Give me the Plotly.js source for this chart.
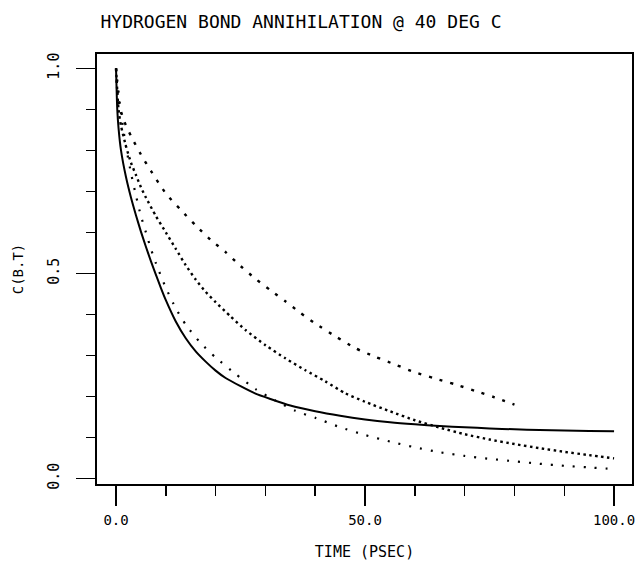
<!DOCTYPE html>
<html>
<head>
<meta charset="utf-8">
<script src="https://cdn.plot.ly/plotly-3.0.1.min.js"></script>
<style>
  html, body { margin: 0; padding: 0; background: #fff; }
  #chart { width: 636px; height: 564px; }
</style>
</head>
<body>
<div id="chart"></div>
<script>
// ---- Data ----
const chartTitle = 'HYDROGEN BOND ANNIHILATION @ 40 DEG C';
const xTitle = 'TIME (PSEC)';
const yTitle = 'C(B.T)';

const xTickVals = [0, 50, 100];
const xTickText = ['0.0', '50.0', '100.0'];
const yTickVals = [0, 0.5, 1.0];
const yTickText = ['0.0', '0.5', '1.0'];

// solid curve
const tSolid = [0, 0.25, 0.5, 1, 2, 3, 4, 5, 6, 7, 8, 9, 10, 12, 14, 16, 18, 20, 22, 25, 28, 31, 35, 40, 45, 50, 55, 60, 65, 70, 75, 80, 85, 90, 95, 100];
const cSolid = [1.0, 0.90, 0.855, 0.80, 0.735, 0.685, 0.642, 0.602, 0.565, 0.53, 0.497, 0.465, 0.435, 0.383, 0.342, 0.31, 0.285, 0.263, 0.245, 0.225, 0.207, 0.194, 0.178, 0.164, 0.153, 0.144, 0.137, 0.132, 0.128, 0.125, 0.122, 0.12, 0.118, 0.117, 0.116, 0.115];

// lower dotted curve (sparse dots)
const tLow = [0, 1, 2, 3, 4, 5, 6, 7, 8, 10, 12, 14, 17, 20, 24, 28, 32, 36, 40, 45, 50, 55, 60, 65, 70, 75, 80, 85, 90, 95, 100];
const cLow = [1.0, 0.89, 0.81, 0.745, 0.69, 0.64, 0.60, 0.56, 0.525, 0.465, 0.415, 0.375, 0.33, 0.295, 0.255, 0.218, 0.19, 0.165, 0.148, 0.125, 0.106, 0.09, 0.076, 0.064, 0.055, 0.048, 0.042, 0.036, 0.031, 0.027, 0.023];

// middle dotted curve (dense dots)
const tMid = [0, 0.5, 1, 2, 3, 4, 5, 6, 8, 10, 12, 14, 16, 18, 20, 23, 26, 30, 34, 38, 42, 46, 50, 55, 60, 65, 70, 75, 80, 85, 90, 95, 100];
const cMid = [1.0, 0.90, 0.86, 0.81, 0.77, 0.74, 0.71, 0.685, 0.64, 0.60, 0.56, 0.52, 0.485, 0.455, 0.43, 0.395, 0.362, 0.325, 0.293, 0.264, 0.237, 0.208, 0.187, 0.164, 0.142, 0.124, 0.108, 0.095, 0.084, 0.074, 0.065, 0.057, 0.049];

// upper dashed-dotted curve (ends at 80 ps)
const tTop = [0, 0.5, 1.5, 3, 5, 7, 10, 13, 16, 19, 22, 25, 28, 31, 34, 37, 40, 44, 48, 52, 56, 60, 64, 68, 72, 76, 80];
const cTop = [1.0, 0.92, 0.875, 0.835, 0.79, 0.75, 0.695, 0.655, 0.617, 0.582, 0.552, 0.518, 0.487, 0.459, 0.432, 0.404, 0.378, 0.347, 0.318, 0.297, 0.278, 0.259, 0.244, 0.23, 0.214, 0.198, 0.18];

// ---- Plot ----
const FONT = 'DejaVu Sans Mono, monospace';
const traces = [
  { x: tSolid, y: cSolid, mode: 'lines', line: { color: '#000', width: 2, shape: 'spline', smoothing: 0.6 }, hoverinfo: 'skip' },
  { x: tLow, y: cLow, mode: 'lines', line: { color: '#000', width: 2.2, dash: '2px,9px', shape: 'spline', smoothing: 0.6 }, hoverinfo: 'skip' },
  { x: tMid, y: cMid, mode: 'lines', line: { color: '#000', width: 2.4, dash: '2.5px,3.5px', shape: 'spline', smoothing: 0.6 }, hoverinfo: 'skip' },
  { x: tTop, y: cTop, mode: 'lines', line: { color: '#000', width: 2.4, dash: '3px,8px', shape: 'spline', smoothing: 0.6 }, hoverinfo: 'skip' }
];

const axisCommon = {
  showline: true, linewidth: 2, linecolor: '#000', mirror: true,
  showgrid: false, zeroline: false,
  ticks: 'outside', tickcolor: '#000', tickwidth: 1.5,
  tickmode: 'array',
  ticklabeloverflow: 'allow'
};

const layout = {
  width: 636, height: 564,
  margin: { l: 97, r: 4, t: 54, b: 80 },
  paper_bgcolor: '#fff', plot_bgcolor: '#fff',
  showlegend: false,
  font: { family: FONT, color: '#000' },
  title: {
    text: chartTitle,
    font: { family: FONT, size: 18, color: '#000' },
    xref: 'container', x: 301 / 636, xanchor: 'center',
    yref: 'container', y: 1 - 22 / 564, yanchor: 'middle'
  },
  xaxis: Object.assign({}, axisCommon, {
    range: [-3.82, 103.6],
    tickvals: xTickVals, ticktext: xTickText,
    tickfont: { family: FONT, size: 14, color: '#000' },
    ticklen: 20,
    ticklabelstandoff: 2,
    minor: { dtick: 10, tick0: 0, ticks: 'outside', ticklen: 10, tickwidth: 1.5, tickcolor: '#000', showgrid: false },
    title: { text: xTitle, font: { family: FONT, size: 15, color: '#000' }, standoff: 20 }
  }),
  yaxis: Object.assign({}, axisCommon, {
    range: [-0.0134, 1.035],
    tickvals: yTickVals, ticktext: yTickText,
    tickfont: { family: FONT, size: 15, color: '#000' },
    tickangle: -90,
    ticklen: 19,
    ticklabelstandoff: 11,
    minor: { dtick: 0.1, tick0: 0, ticks: 'outside', ticklen: 9, tickwidth: 1.5, tickcolor: '#000', showgrid: false },
    title: { text: yTitle, font: { family: FONT, size: 14, color: '#000' }, standoff: 18 }
  })
};

Plotly.newPlot('chart', traces, layout, { staticPlot: true, displayModeBar: false });
</script>
</body>
</html>
